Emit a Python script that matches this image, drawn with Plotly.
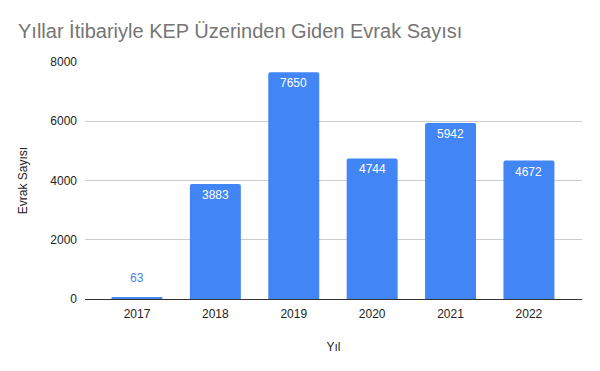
import plotly.graph_objects as go

years = ["2017", "2018", "2019", "2020", "2021", "2022"]
counts = [63, 3883, 7650, 4744, 5942, 4672]
y_ticks = [0, 2000, 4000, 6000, 8000]

blue = "#4285F4"
FONT = "Liberation Sans, Arial"

fig = go.Figure(go.Bar(
    x=years, y=counts,
    marker=dict(color=blue, cornerradius=2, line=dict(width=0)),
    width=0.65, hoverinfo="x+y",
))

for i, v in enumerate(counts):
    outside = v < 500
    fig.add_annotation(
        x=i, y=v, text=str(v), showarrow=False,
        yanchor="middle", yshift=19 if outside else -11,
        font=dict(family=FONT, size=12, color=blue if outside else "white"),
    )

fig.update_layout(
    width=600, height=371,
    margin=dict(l=85, r=18, t=62, b=72),
    paper_bgcolor="white", plot_bgcolor="white",
    font=dict(family=FONT, size=12, color="#222"),
    title=dict(text="Yıllar İtibariyle KEP Üzerinden Giden Evrak Sayısı",
               x=0.03, xanchor="left", y=0.916, yanchor="middle",
               font=dict(size=20, color="#757575")),
    showlegend=False,
)
fig.update_xaxes(type="category", range=[-0.663, 5.677], showgrid=False,
                 ticks="", ticklabelstandoff=6,
                 title=dict(text="Yıl", standoff=22,
                            font=dict(size=12, color="#222")),
                 tickfont=dict(size=12, color="#222"))
fig.update_yaxes(range=[0, 8000], tickvals=y_ticks, showgrid=True,
                 gridcolor="#cccccc", zeroline=True, zerolinecolor="#333333",
                 zerolinewidth=1, ticks="", ticklabelstandoff=7,
                 title=dict(text="Evrak Sayısı", standoff=20,
                            font=dict(size=12, color="#222")),
                 tickfont=dict(size=12, color="#222"))
fig.write_html("out.html")
